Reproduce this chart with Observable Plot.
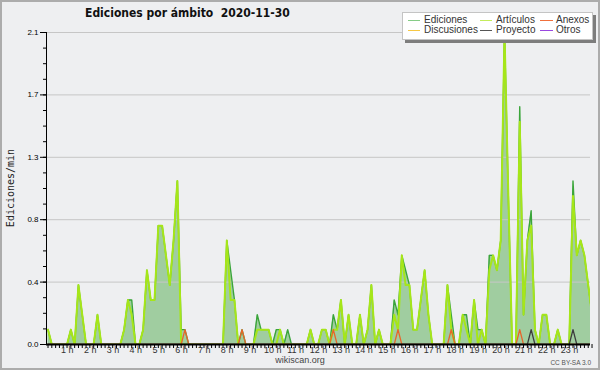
<!DOCTYPE html>
<html><head><meta charset="utf-8">
<script src="https://cdn.jsdelivr.net/npm/d3@7"></script>
<script src="https://cdn.jsdelivr.net/npm/@observablehq/plot@0.6"></script>
<style>
html,body{margin:0;padding:0;background:#eeeff1;}
#wrap{position:relative;width:600px;height:370px;background:#eeeff1;overflow:hidden;font-family:"Liberation Sans",sans-serif;}
#wrap svg{position:absolute;left:0;top:0;}
#title{position:absolute;left:85px;top:6px;font:bold 12px "Liberation Sans Narrow","DejaVu Sans Condensed",sans-serif;color:#111;white-space:pre;}
#ylab{position:absolute;left:10px;top:188px;transform:translate(-50%,-50%) rotate(-90deg);font:10px "DejaVu Sans Mono",monospace;color:#222;white-space:nowrap;}
#legend{position:absolute;left:402px;top:12px;width:189px;height:26px;background:#fff;border:1px solid #c4c4c4;box-shadow:3px 3px 0 #7d7d7d;}
.li{position:absolute;font:10px "Liberation Sans",sans-serif;color:#333;white-space:nowrap;line-height:10px;}
.sw{position:absolute;height:1px;width:12px;}
#site{position:absolute;left:300px;top:355px;transform:translateX(-50%);font:9px "Liberation Sans",sans-serif;color:#444;}
#lic{position:absolute;right:9px;top:359px;font:6.5px "Liberation Sans",sans-serif;color:#555;}
#border{position:absolute;left:0;top:0;width:600px;height:370px;box-sizing:border-box;border:2px solid #acacac;pointer-events:none;}
[aria-label="y-axis"] text{fill:#555;}
</style></head><body>
<div id="wrap">
  <div id="chart"></div>
  <div id="title">Ediciones por ámbito  2020-11-30</div>
  <div id="ylab">Ediciones/min</div>
  <div id="legend"></div>
  <div id="site">wikiscan.org</div>
  <div id="lic">CC BY-SA 3.0</div>
  <div id="border"></div>
</div>
<script>
// Edits per minute, one value per 10-minute bucket (00:00 ... 23:50)
const ediciones = [
  0.1,0,0,0,0,0,     0.1,0,0.4,0.2,0,0,   0,0.2,0,0,0,0,      0,0,0.1,0.3,0.3,0,
  0,0.1,0.5,0.3,0.3,0.8, 0.8,0.6,0.4,0.7,1.1,0.1, 0.1,0,0,0,0,0,  0,0,0,0,0,0.7,
  0.5,0.3,0,0.1,0,0, 0,0.2,0.1,0.1,0.1,0, 0.1,0.1,0,0.1,0,0,  0,0,0,0.1,0,0,
  0.1,0.1,0,0.2,0.1,0.3, 0,0.2,0,0,0.2,0, 0.1,0.4,0,0.1,0,0,  0,0.3,0.2,0.6,0.5,0.4,
  0.1,0.1,0.3,0.5,0.2,0, 0,0,0,0.4,0.2,0, 0,0.2,0.2,0,0.3,0.1, 0.1,0,0.6,0.6,0.5,0.7,
  2.1,1.0,0,0,1.6,0.2, 0.7,0.9,0.1,0,0.2,0.2, 0,0,0.1,0,0,0, 1.1,0.6,0.7,0.6,0.4,0.2
];
const articulos = [
  0.1,0,0,0,0,0,     0.1,0,0.4,0.2,0,0,   0,0.2,0,0,0,0,      0,0,0.1,0.3,0.2,0,
  0,0.1,0.5,0.3,0.3,0.8, 0.8,0.6,0.4,0.7,1.1,0, 0,0,0,0,0,0,    0,0,0,0,0,0.7,
  0.3,0.3,0,0,0,0,   0,0.1,0.1,0.1,0.1,0, 0,0.1,0,0,0,0,      0,0,0,0.1,0,0,
  0.1,0.1,0,0.1,0.1,0.3, 0,0.2,0,0,0.2,0, 0.1,0.4,0,0.1,0,0,  0,0.2,0.1,0.6,0.4,0.4,
  0.1,0.1,0.3,0.5,0.2,0, 0,0,0,0.4,0.1,0, 0,0.2,0.1,0,0.3,0,   0.1,0,0.5,0.6,0.5,0.7,
  2.1,1.0,0,0,1.5,0.2, 0.7,0.8,0.1,0,0.2,0.2, 0,0,0.1,0,0,0, 1.0,0.6,0.7,0.6,0.4,0.2
];
const anexos = [
  0,0,0,0,0,0, 0,0,0,0,0,0, 0,0,0,0,0,0, 0,0,0,0,0,0,
  0,0,0,0,0,0, 0,0,0,0,0,0, 0.1,0,0,0,0,0, 0,0,0,0,0,0,
  0,0,0,0.1,0,0, 0,0,0,0,0,0, 0,0,0,0,0,0, 0,0,0,0,0,0,
  0,0,0,0.1,0,0, 0,0,0,0,0,0, 0,0,0,0,0,0, 0,0,0.1,0,0,0,
  0,0,0,0,0,0, 0,0,0,0,0.1,0, 0,0,0,0,0,0, 0,0,0,0,0,0,
  0,0,0,0,0.1,0, 0,0,0,0,0,0, 0,0,0,0,0,0, 0,0,0,0,0,0
];
const proyecto = [
  0,0,0,0,0,0, 0,0,0,0,0,0, 0,0,0,0,0,0, 0,0,0,0,0,0,
  0,0,0,0,0,0, 0,0,0,0,0,0, 0,0,0,0,0,0, 0,0,0,0,0,0,
  0,0,0,0,0,0, 0,0,0,0,0,0, 0,0,0,0,0,0, 0,0,0,0,0,0,
  0,0,0,0,0,0, 0,0,0,0,0,0, 0,0,0,0,0,0, 0,0,0,0,0,0,
  0,0,0,0,0,0, 0,0,0,0,0,0, 0,0,0,0,0,0, 0,0,0,0,0,0,
  0,0,0,0,0,0, 0,0.1,0,0,0,0, 0,0,0,0,0,0, 0.1,0,0,0,0,0
];
const hourLabels = ["1 h","2 h","3 h","4 h","5 h","6 h","7 h","8 h","9 h","10 h","11 h","12 h",
  "13 h","14 h","15 h","16 h","17 h","18 h","19 h","20 h","21 h","22 h","23 h"];
const hourValues = [1,2,3,4,5,6,7,8,9,10,11,12,13,14,15,16,17,18,19,20,21,22,23];
const yTicks = [0, 0.42, 0.84, 1.26, 1.68, 2.1];
const yTickLabels = ["0.0","0.4","0.8","1.3","1.7","2.1"];
const legendItems = [
  {name:"Ediciones",   color:"#86cc86", col:0, row:0},
  {name:"Discusiones", color:"#f7c844", col:0, row:1},
  {name:"Artículos",   color:"#c4ec5c", col:1, row:0},
  {name:"Proyecto",    color:"#555555", col:1, row:1},
  {name:"Anexos",      color:"#f0703c", col:2, row:0},
  {name:"Otros",       color:"#9a48e0", col:2, row:1}
];

const n = ediciones.length;
const data = d3.range(n).map(i => ({i, total: ediciones[i], art: articulos[i], anx: anexos[i], pro: proyecto[i]}));
const xDomain = [-0.4, n - 1.4];
const yDomain = [0, 2.1];
const W = 600, H = 370, ML = 46, MR = 10, MT = 32, MB = 26;
const yMinor = d3.range(0, 21).map(k => yTicks[5] * k / 20);
const pxPerX = (W - ML - MR) / (xDomain[1] - xDomain[0]);
const hours = hourLabels.map((t, k) => ({t, pos: hourValues[k] * 6}));

const main = Plot.plot({
  width: W, height: H, marginLeft: ML, marginRight: MR, marginTop: MT, marginBottom: MB,
  style: {background: "transparent", color: "#000", fontFamily: "Liberation Sans Narrow, Liberation Sans, sans-serif", fontSize: "8px", overflow: "visible"},
  x: {domain: xDomain, ticks: d3.range(n), tickSize: 4, tickFormat: () => "", label: null},
  y: {domain: yDomain, ticks: yTicks, tickSize: 6, tickPadding: 2, tickFormat: d => yTickLabels[yTicks.indexOf(d)], label: null},
  marks: [
    Plot.areaY(data, {x: "i", y: "total", fill: "#a0cda0", clip: true}),
    Plot.ruleY(yTicks.slice(1), {stroke: "#c6c6c6", strokeWidth: 1}),
    Plot.lineY(data, {x: "i", y: "total", stroke: "#3aa53a", strokeWidth: 1.4, clip: true}),
    Plot.lineY(data, {x: "i", y: "art", stroke: "#a6e619", strokeWidth: 2, clip: true}),
    Plot.lineY(data, {x: "i", y: "anx", stroke: "#e8642a", strokeWidth: 1.3, clip: true}),
    Plot.lineY(data, {x: "i", y: "pro", stroke: "#3c3c3c", strokeWidth: 1.3, clip: true}),
    Plot.ruleY([0], {stroke: "#000", strokeWidth: 2}),
    Plot.ruleX([xDomain[0]], {y1: yDomain[0], y2: yDomain[1], stroke: "#000", strokeWidth: 1}),
    Plot.ruleY(yMinor, {x1: xDomain[0] - 3 / pxPerX, x2: xDomain[0], stroke: "#000", strokeWidth: 1}),
    Plot.text(hours, {x: "pos", y: 0, text: "t", dy: 6, dx: -3.5, fill: "#333", fontSize: 9, fontFamily: "Liberation Sans, sans-serif"})
  ]
});
document.getElementById("chart").appendChild(main);

// legend
const lg = document.getElementById("legend");
const colX = [5, 77, 137], rowY = [7, 17];
for (const it of legendItems) {
  const sw = document.createElement("div");
  sw.className = "sw";
  sw.style.left = colX[it.col] + "px";
  sw.style.top = (rowY[it.row]) + "px";
  sw.style.background = it.color;
  sw.style.width = (it.col === 2 ? 13 : 12) + "px";
  lg.appendChild(sw);
  const tx = document.createElement("div");
  tx.className = "li";
  tx.textContent = it.name;
  tx.style.left = (colX[it.col] + 16) + "px";
  tx.style.top = (rowY[it.row] - 5) + "px";
  lg.appendChild(tx);
}
</script>
</body></html>
